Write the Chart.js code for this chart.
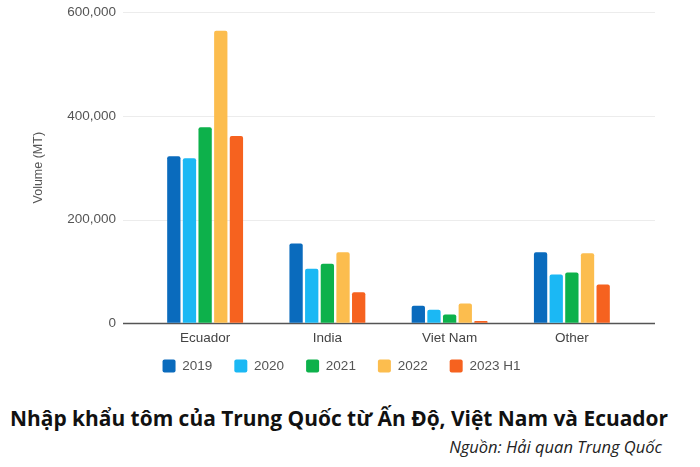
<!DOCTYPE html>
<html>
<head>
<meta charset="utf-8">
<script src="https://cdn.jsdelivr.net/npm/chart.js@4.4.1/dist/chart.umd.min.js"></script>
<style>
  html, body { margin: 0; padding: 0; background: #fff; }
  #wrap { position: relative; width: 700px; height: 399px; }
  #title {
    position: absolute; left: 10px; top: 404px; white-space: nowrap;
    font-family: "Open Sans", "Noto Sans", sans-serif; font-weight: 700; font-size: 21px;
    color: #111; transform-origin: 0 0;
  }
  #source {
    position: absolute; right: 38px; top: 435px; white-space: nowrap;
    font-family: "Open Sans", "Noto Sans", sans-serif; font-style: italic; font-size: 16.5px;
    color: #222;
  }
</style>
</head>
<body>
<div id="wrap"><canvas id="chart"></canvas></div>
<div id="title">Nhập khẩu tôm của Trung Quốc từ Ấn Độ, Việt Nam và Ecuador</div>
<div id="source">Nguồn: Hải quan Trung Quốc</div>
<script>
// Data (MT)
const categories = ['Ecuador', 'India', 'Viet Nam', 'Other'];
const years = ['2019', '2020', '2021', '2022', '2023 H1'];
const v2019 = [322000, 154000, 34000, 137000];
const v2020 = [318000, 105000, 26000, 94000];
const v2021 = [378000, 115000, 17000, 98000];
const v2022 = [564000, 137000, 38000, 135000];
const v2023h1 = [361000, 60000, 4500, 75000];
const yTicks = [0, 200000, 400000, 600000];

const colors = ['#0a6bbd', '#1bb8f4', '#0db14b', '#fcbd4e', '#f6621f'];
const series = [v2019, v2020, v2021, v2022, v2023h1];

// Grid lines in the original run past the plot on both sides
const wideGrid = {
    id: 'wideGrid',
    beforeDatasetsDraw(chart) {
        const { ctx, chartArea, scales } = chart;
        const left = chartArea.left - 21;
        const right = chartArea.right + 22;
        ctx.save();
        yTicks.forEach(t => {
            const y = Math.round(scales.y.getPixelForValue(t)) + 0.5;
            ctx.beginPath();
            ctx.strokeStyle = t === 0 ? '#555555' : '#ececec';
            ctx.lineWidth = t === 0 ? 1.5 : 1;
            ctx.moveTo(left, y);
            ctx.lineTo(right, y);
            ctx.stroke();
        });
        ctx.restore();
    },
    afterLayout(chart) {
        // legend sits a little right of centre and close under the labels
        const lg = chart.legend;
        lg.left += 19;
        const h = lg.bottom - lg.top;
        lg.top = chart.chartArea.bottom + 14;
        lg.bottom = lg.top + h;
    }
};

const tickFont = { family: '"Liberation Sans", Arial, sans-serif', size: 13.5 };

new Chart(document.getElementById('chart'), {
    type: 'bar',
    data: {
        labels: categories,
        datasets: series.map((data, i) => ({
            label: years[i],
            data: data,
            backgroundColor: colors[i],
            borderRadius: { topLeft: 2, topRight: 2 },
            borderSkipped: 'bottom',
            categoryPercentage: 0.64,
            barPercentage: 0.85
        }))
    },
    options: {
        responsive: true,
        maintainAspectRatio: false,
        animation: false,
        layout: { padding: { left: 31, right: 67, top: 2, bottom: 0 } },
        scales: {
            x: {
                grid: { display: false, drawTicks: false },
                border: { display: false },
                ticks: { color: '#444', font: tickFont, padding: 7 }
            },
            y: {
                min: 0,
                max: 600000,
                afterBuildTicks(scale) {
                    scale.ticks = yTicks.map(v => ({ value: v }));
                },
                afterFit(scale) { scale.width = 113; },
                grid: {
                    drawOnChartArea: false,
                    color: 'rgba(0,0,0,0)',
                    tickColor: 'rgba(0,0,0,0)',
                    tickLength: 24
                },
                border: { display: false },
                ticks: {
                    color: '#555',
                    font: tickFont,
                    padding: 4,
                    callback: v => v.toLocaleString('en-US')
                },
                title: {
                    display: true,
                    text: 'Volume (MT)',
                    color: '#555',
                    font: { family: '"Liberation Sans", Arial, sans-serif', size: 12.5 },
                    padding: { top: 0, bottom: 0 }
                }
            }
        },
        plugins: {
            legend: {
                position: 'bottom',
                labels: {
                    color: '#555',
                    font: { family: '"Liberation Sans", Arial, sans-serif', size: 13.5 },
                    boxWidth: 13,
                    boxHeight: 13,
                    padding: 22,
                    useBorderRadius: true,
                    borderRadius: 2
                }
            },
            tooltip: { enabled: false }
        }
    },
    plugins: [wideGrid]
});

// squeeze the headline to the width it has in the picture
const title = document.getElementById('title');
const w = title.getBoundingClientRect().width;
title.style.transform = 'scaleX(' + (658 / w) + ')';
</script>
</body>
</html>
